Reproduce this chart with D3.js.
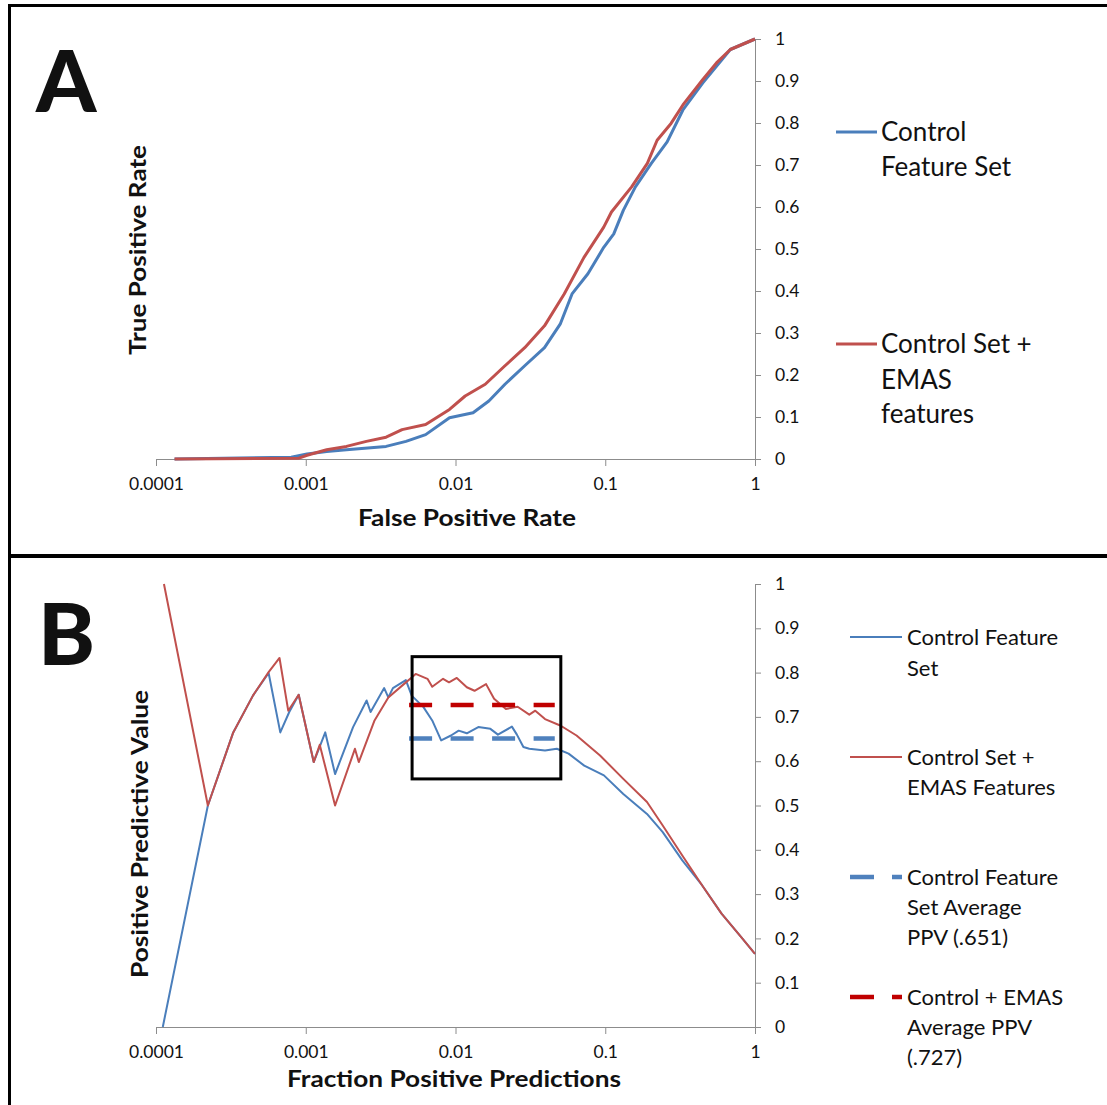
<!DOCTYPE html>
<html><head><meta charset="utf-8">
<script src="https://cdn.jsdelivr.net/npm/d3@7"></script>
<style>body{margin:0;background:#fff}svg{display:block}text{font-family:Lato,"Open Sans",sans-serif;fill:#111}</style>
</head><body>
<script>
// ---- Data ----
const xTicks = [0.0001, 0.001, 0.01, 0.1, 1];
const xTickLabels = ["0.0001", "0.001", "0.01", "0.1", "1"];
const yTicks = [0, 0.1, 0.2, 0.3, 0.4, 0.5, 0.6, 0.7, 0.8, 0.9, 1];
const yTickLabels = ["0", "0.1", "0.2", "0.3", "0.4", "0.5", "0.6", "0.7", "0.8", "0.9", "1"];

// Panel A: ROC (False Positive Rate, True Positive Rate)
const rocControlFPR = [1.33e-4, 8.0e-4, 1.02e-3, 1.38e-3, 1.87e-3, 3.44e-3, 4.67e-3, 6.32e-3, 9.12e-3, 0.0131, 0.0167, 0.0214, 0.0290, 0.0393, 0.0500, 0.0600, 0.0766, 0.0977, 0.114, 0.132, 0.159, 0.203, 0.259, 0.330, 0.447, 0.684, 1];
const rocControlTPR = [0, 0.004, 0.012, 0.018, 0.022, 0.030, 0.042, 0.058, 0.098, 0.110, 0.138, 0.178, 0.222, 0.265, 0.321, 0.393, 0.441, 0.504, 0.536, 0.592, 0.648, 0.704, 0.755, 0.831, 0.895, 0.975, 1];
const rocEmasFPR = [1.33e-4, 9.0e-4, 1.02e-3, 1.38e-3, 1.87e-3, 2.54e-3, 3.44e-3, 4.40e-3, 6.32e-3, 9.12e-3, 0.0116, 0.0158, 0.0214, 0.0290, 0.0393, 0.0532, 0.0721, 0.0977, 0.110, 0.150, 0.191, 0.222, 0.275, 0.330, 0.447, 0.553, 0.684, 1];
const rocEmasTPR = [0, 0.002, 0.009, 0.022, 0.030, 0.042, 0.052, 0.070, 0.082, 0.118, 0.150, 0.178, 0.222, 0.265, 0.317, 0.393, 0.480, 0.552, 0.588, 0.648, 0.704, 0.759, 0.799, 0.843, 0.903, 0.943, 0.975, 1];

// Panel B: PPV vs fraction positive predictions
const ppvControlX = [1.11e-4, 2.22e-4, 3.28e-4, 4.44e-4, 5.65e-4, 6.76e-4, 7.76e-4, 8.97e-4, 1.13e-3, 1.35e-3, 1.57e-3, 2.07e-3, 2.55e-3, 2.71e-3, 3.34e-3, 3.56e-3, 3.82e-3, 4.66e-3, 5.10e-3, 6.11e-3, 6.99e-3, 8.02e-3, 9.33e-3, 0.0105, 0.0119, 0.0142, 0.0171, 0.0192, 0.0238, 0.0257, 0.0284, 0.0311, 0.0396, 0.0475, 0.0569, 0.0724, 0.098, 0.132, 0.190, 0.242, 0.327, 0.443, 0.598, 0.809, 1];
const ppvControlY = [0, 0.5, 0.665, 0.748, 0.799, 0.665, 0.711, 0.750, 0.598, 0.665, 0.571, 0.677, 0.737, 0.711, 0.765, 0.744, 0.765, 0.783, 0.748, 0.722, 0.692, 0.647, 0.658, 0.669, 0.663, 0.677, 0.673, 0.660, 0.678, 0.660, 0.632, 0.628, 0.624, 0.628, 0.617, 0.590, 0.568, 0.526, 0.481, 0.440, 0.376, 0.320, 0.256, 0.203, 0.165];
const ppvEmasX = [1.13e-4, 2.22e-4, 3.28e-4, 4.44e-4, 5.65e-4, 6.68e-4, 7.64e-4, 8.97e-4, 1.13e-3, 1.24e-3, 1.57e-3, 2.13e-3, 2.26e-3, 2.88e-3, 3.56e-3, 4.52e-3, 5.10e-3, 5.42e-3, 6.50e-3, 6.99e-3, 8.26e-3, 9.05e-3, 0.0102, 0.0119, 0.0134, 0.0160, 0.0181, 0.0217, 0.0260, 0.0311, 0.0341, 0.0396, 0.0505, 0.0643, 0.0923, 0.132, 0.190, 0.242, 0.327, 0.443, 0.598, 0.809, 1];
const ppvEmasY = [1.0, 0.5, 0.665, 0.748, 0.801, 0.833, 0.714, 0.750, 0.598, 0.637, 0.500, 0.628, 0.598, 0.692, 0.744, 0.774, 0.789, 0.797, 0.786, 0.768, 0.786, 0.778, 0.788, 0.767, 0.759, 0.774, 0.741, 0.718, 0.723, 0.705, 0.714, 0.695, 0.680, 0.658, 0.613, 0.560, 0.508, 0.455, 0.387, 0.320, 0.256, 0.203, 0.165];

const avgRange = [0.0049, 0.046];
const avgControl = 0.651;
const avgEmas = 0.727;
const boxX = [0.00513, 0.0505];
const boxY = [0.56, 0.836];

// ---- Drawing ----
const W = 1107, H = 1105;
const svg = d3.select("body").append("svg").attr("width", W).attr("height", H);

const blue = "#4A7EBB", red = "#C0504D", blueDash = "#4F81BD", redDash = "#C00000";
const axisGray = "#8c8c8c";

// frame
svg.append("line").attr("x1", 8).attr("x2", W).attr("y1", 5.5).attr("y2", 5.5).attr("stroke", "#000").attr("stroke-width", 3);
svg.append("line").attr("x1", 9.5).attr("x2", 9.5).attr("y1", 4).attr("y2", H).attr("stroke", "#000").attr("stroke-width", 3);
svg.append("line").attr("x1", 8).attr("x2", W).attr("y1", 556).attr("y2", 556).attr("stroke", "#000").attr("stroke-width", 4);

const x = d3.scaleLog().domain([1e-4, 1]).range([156, 755]);
const yA = d3.scaleLinear().domain([0, 1]).range([459, 39]);
const yB = d3.scaleLinear().domain([0, 1]).range([1027, 584]);

function drawAxes(y) {
  const g = svg.append("g");
  const xAx = d3.axisBottom(x).tickValues(xTicks).tickFormat((d, i) => xTickLabels[i]).tickSizeInner(7).tickSizeOuter(0).tickPadding(12);
  const gx = g.append("g").attr("transform", `translate(0,${y(0)})`).call(xAx);
  gx.select(".domain").attr("stroke", axisGray);
  gx.selectAll(".tick line").attr("stroke", axisGray);
  gx.selectAll(".tick text").attr("font-size", 17.5).attr("font-family", "Lato").attr("fill", "#111");
  const yAx = d3.axisRight(y).tickValues(yTicks).tickFormat((d, i) => yTickLabels[i]).tickSizeInner(6).tickSizeOuter(0).tickPadding(14);
  const gy = g.append("g").attr("transform", `translate(${x(1)},0)`).call(yAx);
  gy.select(".domain").attr("stroke", axisGray);
  gy.selectAll(".tick line").attr("stroke", axisGray);
  gy.selectAll(".tick text").attr("font-size", 17.5).attr("font-family", "Lato").attr("fill", "#111");
}
drawAxes(yA);
drawAxes(yB);

function zip(xs, ys) { return xs.map((v, i) => [v, ys[i]]); }
const lineA = d3.line().x(d => x(d[0])).y(d => yA(d[1]));
const lineB = d3.line().x(d => x(d[0])).y(d => yB(d[1]));

svg.append("path").attr("d", lineA(zip(rocControlFPR, rocControlTPR))).attr("fill", "none").attr("stroke", blue).attr("stroke-width", 3).attr("stroke-linejoin", "round");
svg.append("path").attr("d", lineA(zip(rocEmasFPR, rocEmasTPR))).attr("fill", "none").attr("stroke", red).attr("stroke-width", 3).attr("stroke-linejoin", "round");

svg.append("path").attr("d", lineB(zip(ppvControlX, ppvControlY))).attr("fill", "none").attr("stroke", blue).attr("stroke-width", 2).attr("stroke-linejoin", "round");
svg.append("path").attr("d", lineB(zip(ppvEmasX, ppvEmasY))).attr("fill", "none").attr("stroke", red).attr("stroke-width", 2).attr("stroke-linejoin", "round");

svg.append("line").attr("x1", x(avgRange[0])).attr("x2", x(avgRange[1])).attr("y1", yB(avgControl)).attr("y2", yB(avgControl))
  .attr("stroke", blueDash).attr("stroke-width", 4.5).attr("stroke-dasharray", "23 18.5");
svg.append("line").attr("x1", x(avgRange[0])).attr("x2", x(avgRange[1])).attr("y1", yB(avgEmas)).attr("y2", yB(avgEmas))
  .attr("stroke", redDash).attr("stroke-width", 4.5).attr("stroke-dasharray", "23 18.5");

svg.append("rect").attr("x", x(boxX[0])).attr("y", yB(boxY[1])).attr("width", x(boxX[1]) - x(boxX[0])).attr("height", yB(boxY[0]) - yB(boxY[1]))
  .attr("fill", "none").attr("stroke", "#000").attr("stroke-width", 3);

// Panel letters
svg.append("text").attr("x", 36).attr("y", 112).attr("font-size", 86).attr("font-weight", 900).text("A");
svg.append("text").attr("x", 38).attr("y", 665).attr("font-size", 86).attr("font-weight", 900).text("B");

// Axis titles
function title(txt, cx, cy, len, rot) {
  const t = svg.append("text").attr("text-anchor", "middle").attr("font-size", 23).attr("font-weight", 700)
    .attr("textLength", len).attr("lengthAdjust", "spacingAndGlyphs").text(txt);
  if (rot) t.attr("transform", `translate(${cx},${cy}) rotate(-90)`).attr("x", 0).attr("y", 0);
  else t.attr("x", cx).attr("y", cy);
}
title("False Positive Rate", 467, 526, 218, false);
title("True Positive Rate", 146, 250, 210, true);
title("Fraction Positive Predictions", 454, 1087, 334, false);
title("Positive Predictive Value", 148, 834, 288, true);

// Legends
function legLines(lines, tx, ys, fs) {
  lines.forEach((s, i) => svg.append("text").attr("x", tx).attr("y", ys[i]).attr("dy", "0.35em").attr("font-size", fs).text(s));
}
svg.append("line").attr("x1", 836).attr("x2", 877).attr("y1", 132).attr("y2", 132).attr("stroke", blue).attr("stroke-width", 3);
legLines(["Control", "Feature Set"], 881, [132, 167], 26);
svg.append("line").attr("x1", 836).attr("x2", 877).attr("y1", 344).attr("y2", 344).attr("stroke", red).attr("stroke-width", 3);
legLines(["Control Set +", "EMAS", "features"], 881, [344, 380, 414], 26);

svg.append("line").attr("x1", 850).attr("x2", 902).attr("y1", 637).attr("y2", 637).attr("stroke", blue).attr("stroke-width", 2);
legLines(["Control Feature", "Set"], 907, [637, 668], 22);
svg.append("line").attr("x1", 850).attr("x2", 902).attr("y1", 757).attr("y2", 757).attr("stroke", red).attr("stroke-width", 2);
legLines(["Control Set +", "EMAS Features"], 907, [757, 787], 22);
svg.append("line").attr("x1", 850).attr("x2", 902).attr("y1", 877).attr("y2", 877).attr("stroke", blueDash).attr("stroke-width", 4.5).attr("stroke-dasharray", "24 18 10");
legLines(["Control Feature", "Set Average", "PPV (.651)"], 907, [877, 907, 937], 22);
svg.append("line").attr("x1", 850).attr("x2", 902).attr("y1", 997).attr("y2", 997).attr("stroke", redDash).attr("stroke-width", 4.5).attr("stroke-dasharray", "24 18 10");
legLines(["Control + EMAS", "Average PPV", "(.727)"], 907, [997, 1027, 1057], 22);
</script>
</body></html>
